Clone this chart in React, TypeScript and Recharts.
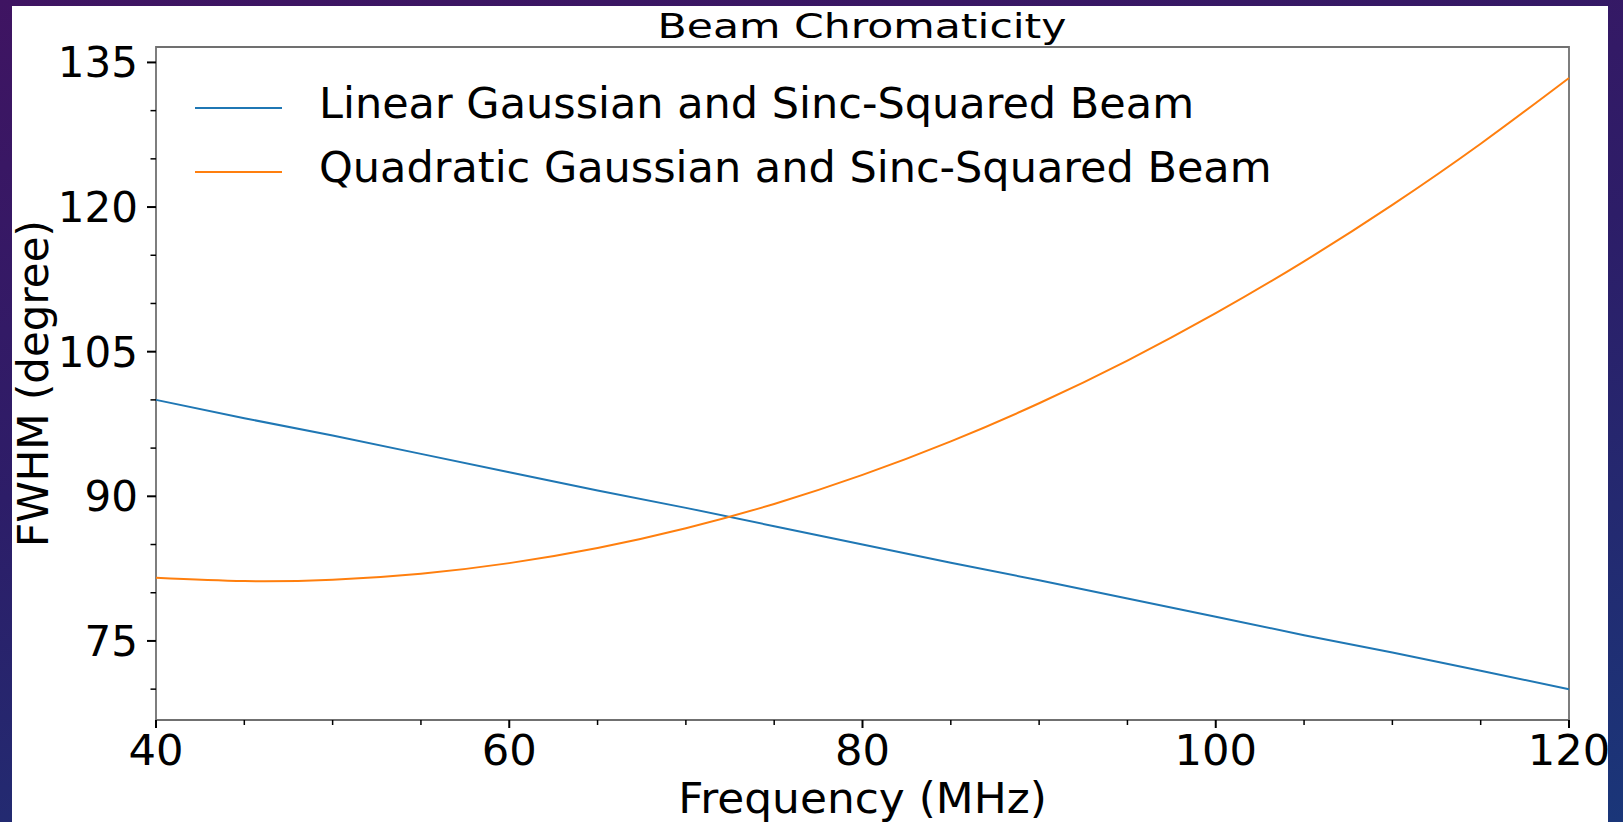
import React from 'react';
import { LineChart, Line, XAxis, YAxis, Legend, ReferenceArea, Label } from 'recharts';

// values
const frequencies = [40, 45, 50, 55, 60, 65, 70, 75, 80, 85, 90, 95, 100, 105, 110, 115, 120];
const linearBeam = [100.0, 98.1, 96.3, 94.4, 92.5, 90.6, 88.8, 86.9, 85.0, 83.1, 81.3, 79.4, 77.5, 75.6, 73.8, 71.9, 70.0];
const quadraticBeam = [81.55, 81.21, 81.35, 81.97, 83.07, 84.64, 86.69, 89.21, 92.22, 95.7, 99.65, 104.08, 108.99, 114.37, 120.23, 126.57, 133.39];

const xTicks = [40, 45, 50, 55, 60, 65, 70, 75, 80, 85, 90, 95, 100, 105, 110, 115, 120];
const xMajorTicks = [40, 60, 80, 100, 120];
const yTicks = [70, 75, 80, 85, 90, 95, 100, 105, 110, 115, 120, 125, 130, 135];
const yMajorTicks = [75, 90, 105, 120, 135];

const seriesNames = ['Linear Gaussian and Sinc-Squared Beam', 'Quadratic Gaussian and Sinc-Squared Beam'];
const seriesKeys = ['linear', 'quadratic'];
const seriesColors = ['#1f77b4', '#ff7f0e'];

const FONT = '"DejaVu Sans", Verdana, sans-serif';

const chartData = frequencies.map((f, i) => ({
  freq: f,
  linear: linearBeam[i],
  quadratic: quadraticBeam[i],
}));

const XTick = (props: any) => {
  const { x, y, payload } = props;
  const major = xMajorTicks.includes(payload.value);
  return (
    <g>
      <line x1={x} x2={x} y1={y} y2={y + (major ? 8 : 5)} stroke="#000" strokeWidth={major ? 2 : 1.5} />
      {major && (
        <text
          x={x}
          y={y + 45}
          textAnchor="middle"
          fontSize={42}
          fontFamily={FONT}
          fill="#000"
          transform={`translate(${x} 0) scale(1.03 1) translate(${-x} 0)`}
        >
          {payload.value}
        </text>
      )}
    </g>
  );
};

const YTick = (props: any) => {
  const { x, y, payload } = props;
  const major = yMajorTicks.includes(payload.value);
  return (
    <g>
      <line x1={x - (major ? 9 : 5.5)} x2={x} y1={y} y2={y} stroke="#000" strokeWidth={major ? 2 : 1.5} />
      {major && (
        <text x={x - 18} y={y + 15} textAnchor="end" fontSize={42} fontFamily={FONT} fill="#000">
          {payload.value}
        </text>
      )}
    </g>
  );
};

const renderLegend = () => (
  <div style={{ fontFamily: FONT }}>
    {seriesNames.map((name, i) => (
      <div key={name} style={{ display: 'flex', alignItems: 'flex-start', height: 64 }}>
        <div style={{ width: 87, height: 2, marginTop: 36, background: seriesColors[i] }} />
        <span
          style={{
            marginLeft: 37,
            fontSize: 43,
            lineHeight: '64px',
            color: '#000',
            whiteSpace: 'nowrap',
          }}
        >
          {name}
        </span>
      </div>
    ))}
  </div>
);

export default function App() {
  return (
    <div
      style={{
        position: 'fixed',
        left: 0,
        top: 0,
        width: 1623,
        height: 822,
        overflow: 'hidden',
        background: 'linear-gradient(170deg, #3f1462 0%, #2d1d68 45%, #1a3679 100%)',
      }}
    >
      <div
        style={{
          position: 'absolute',
          left: 12,
          top: 6,
          width: 1596,
          height: 816,
          background: '#fff',
          overflow: 'hidden',
        }}
      >
        <div
          style={{
            position: 'absolute',
            left: 850,
            top: 3.5,
            transform: 'translateX(-50%) scaleX(1.29)',
            fontFamily: FONT,
            fontSize: 33,
            lineHeight: '33px',
            whiteSpace: 'nowrap',
            color: '#000',
          }}
        >
          Beam Chromaticity
        </div>
        <LineChart
          width={1596}
          height={816}
          data={chartData}
          margin={{ top: 41, right: 39, bottom: 0, left: 0 }}
        >
          <XAxis
            dataKey="freq"
            type="number"
            domain={[40, 120]}
            ticks={xTicks}
            interval={0}
            tick={<XTick />}
            tickLine={false}
            tickSize={0}
            tickMargin={0}
            axisLine={false}
            height={102}
          >
            <Label
              content={({ viewBox }: any) => {
                const cx = viewBox.x + viewBox.width / 2;
                return (
                  <text
                    x={cx}
                    y={viewBox.y + 93}
                    textAnchor="middle"
                    fontSize={42}
                    fontFamily={FONT}
                    fill="#000"
                    transform={`translate(${cx} 0) scale(1.045 1) translate(${-cx} 0)`}
                  >
                    Frequency (MHz)
                  </text>
                );
              }}
            />
          </XAxis>
          <YAxis
            type="number"
            domain={[66.8, 136.6]}
            ticks={yTicks}
            interval={0}
            tick={<YTick />}
            tickLine={false}
            tickSize={0}
            tickMargin={0}
            axisLine={false}
            width={144}
          >
            <Label
              content={({ viewBox }: any) => {
                const cx = viewBox.x + 36;
                const cy = viewBox.y + viewBox.height / 2;
                return (
                  <text
                    x={cx}
                    y={cy}
                    transform={`rotate(-90 ${cx} ${cy})`}
                    textAnchor="middle"
                    fontSize={42}
                    fontFamily={FONT}
                    fill="#000"
                  >
                    FWHM (degree)
                  </text>
                );
              }}
            />
          </YAxis>
          <ReferenceArea
            x1={40}
            x2={120}
            y1={66.8}
            y2={136.6}
            fill="none"
            stroke="#707070"
            strokeWidth={1.8}
          />
          <Legend
            content={renderLegend}
            layout="vertical"
            align="center"
            verticalAlign="middle"
            wrapperStyle={{ left: 183, top: 65, width: 'auto', height: 'auto' }}
          />
          {seriesKeys.map((key, i) => (
            <Line
              key={key}
              dataKey={key}
              name={seriesNames[i]}
              type={key === 'linear' ? 'linear' : 'natural'}
              stroke={seriesColors[i]}
              strokeWidth={2}
              dot={false}
              activeDot={false}
              isAnimationActive={false}
            />
          ))}
        </LineChart>
      </div>
    </div>
  );
}
